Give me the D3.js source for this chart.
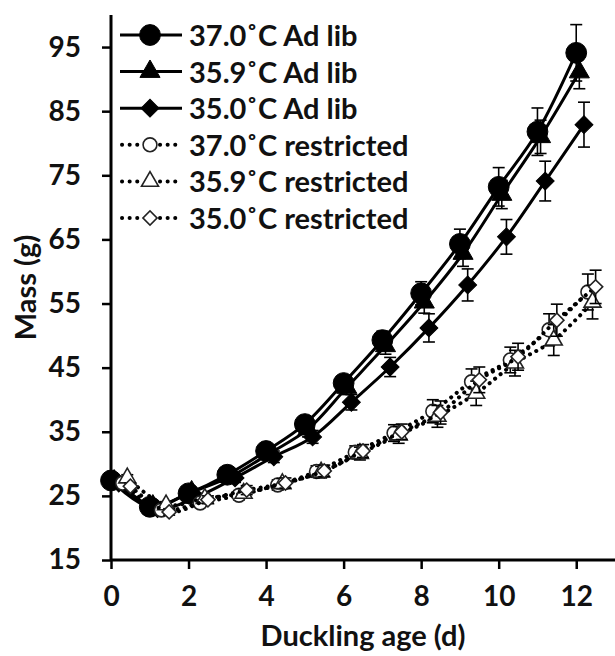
<!DOCTYPE html>
<html>
<head>
<meta charset="utf-8">
<script src="https://cdn.jsdelivr.net/npm/d3@7"></script>
<style>
  body { margin: 0; background: #fff; }
  svg text { font-family: Lato, "Open Sans", sans-serif; font-weight: bold; fill: #111; }
</style>
</head>
<body>
<div id="graph"></div>
<script>
// values (mean mass, g, and error bar half-widths)
const days = [0, 1, 2, 3, 4, 5, 6, 7, 8, 9, 10, 11, 12];

const adlib370 = [27.4, 23.3, 25.4, 28.3, 32.0, 36.2, 42.6, 49.3, 56.6, 64.3, 73.2, 81.8, 94.1];
const adlib359 = [27.3, 23.4, 25.6, 28.0, 31.6, 35.4, 41.9, 48.4, 55.2, 62.8, 72.0, 81.0, 91.1];
const adlib350 = [27.0, 23.0, 24.8, 27.8, 31.1, 34.2, 39.6, 45.1, 51.2, 57.9, 65.4, 74.1, 82.9];
const restr370 = [27.0, 22.8, 23.9, 25.1, 26.7, 28.8, 31.8, 34.8, 38.2, 42.8, 46.2, 50.9, 56.8];
const restr359 = [27.8, 23.6, 24.6, 25.4, 26.9, 28.7, 31.6, 34.5, 37.4, 41.0, 45.7, 49.3, 55.2];
const restr350 = [26.5, 22.5, 24.4, 25.9, 27.0, 28.9, 32.0, 35.0, 38.0, 43.1, 46.7, 52.4, 57.6];

const se370 = [0.6, 0.5, 0.6, 0.8, 1.0, 1.3, 1.2, 1.4, 1.8, 2.3, 3.0, 3.7, 4.4];
const se359 = [0.6, 0.5, 0.6, 0.8, 1.0, 1.2, 1.1, 1.3, 1.7, 2.0, 2.2, 2.6, 2.6];
const se350 = [0.5, 0.5, 0.6, 0.7, 0.9, 1.0, 1.2, 1.5, 2.2, 2.5, 2.7, 3.1, 3.5];
const seR370 = [0.5, 0.5, 0.6, 0.7, 0.8, 0.9, 1.0, 1.3, 1.8, 2.0, 2.0, 2.5, 2.8];
const seR359 = [0.5, 0.5, 0.6, 0.7, 0.8, 0.9, 1.0, 1.3, 1.7, 1.9, 2.0, 2.4, 2.6];
const seR350 = [0.5, 0.5, 0.6, 0.7, 0.8, 0.9, 1.0, 1.2, 1.8, 2.0, 2.1, 2.5, 2.6];

const labels = ['37.0\u02DAC Ad lib', '35.9\u02DAC Ad lib', '35.0\u02DAC Ad lib',
  '37.0\u02DAC restricted', '35.9\u02DAC restricted', '35.0\u02DAC restricted'];

const yTicks = [15, 25, 35, 45, 55, 65, 75, 85, 95];
const xTicks = [0, 2, 4, 6, 8, 10, 12];

// shift = small horizontal stagger used in the original so points don't overlap
const series = [
  {name: labels[0], values: adlib370, se: se370, shift: 0.0, shape: 'circle', open: false},
  {name: labels[1], values: adlib359, se: se359, shift: 0.08, shape: 'triangle', open: false},
  {name: labels[2], values: adlib350, se: se350, shift: 0.2, shape: 'diamond', open: false},
  {name: labels[3], values: restr370, se: seR370, shift: 0.3, shape: 'circle', open: true},
  {name: labels[4], values: restr359, se: seR359, shift: 0.42, shape: 'triangle', open: true},
  {name: labels[5], values: restr350, se: seR350, shift: 0.5, shape: 'diamond', open: true}
];

const W = 615, H = 656;
const margin = {top: 15, right: 0, bottom: 96, left: 111};
const width = W - margin.left - margin.right;
const height = H - margin.top - margin.bottom;

const x = d3.scaleLinear().domain([0, 13]).range([0, width]);
const y = d3.scaleLinear().domain([15, 100]).range([height, 0]);

const svg = d3.select('#graph').append('svg')
  .attr('width', W)
  .attr('height', H);

const g = svg.append('g')
  .attr('transform', 'translate(' + margin.left + ',' + margin.top + ')');

function symbolPath(shape, open) {
  if (shape === 'circle') return d3.symbol(d3.symbolCircle, open ? 150 : 340)();
  if (shape === 'triangle') return d3.symbol(d3.symbolTriangle, open ? 125 : 175)();
  return d3.symbol(d3.symbolSquare, open ? 100 : 160)();
}

function drawMarker(sel, s) {
  sel.append('path')
    .attr('d', symbolPath(s.shape, s.open))
    .attr('transform', s.shape === 'diamond' ? 'rotate(45)' : null)
    .attr('fill', s.open ? '#fff' : '#000')
    .attr('stroke', s.open ? '#222' : '#000')
    .attr('stroke-width', s.open ? 1.6 : 1);
}

const line = d3.line()
  .curve(d3.curveCatmullRom)
  .x(d => x(d.day))
  .y(d => y(d.value));

// x axis
const xAxisG = g.append('g')
  .attr('transform', 'translate(0,' + height + ')')
  .call(d3.axisBottom(x).tickValues(xTicks).tickSize(9).tickPadding(17).tickFormat(d3.format('d')));

// y axis
const yAxisG = g.append('g')
  .call(d3.axisLeft(y).tickValues(yTicks).tickSize(9).tickPadding(21).tickFormat(d3.format('d')));

[xAxisG, yAxisG].forEach(ax => {
  ax.select('.domain').attr('stroke', '#000').attr('stroke-width', 3);
  ax.selectAll('.tick line').attr('stroke', '#000').attr('stroke-width', 2.5);
  ax.selectAll('.tick text').attr('font-size', 28).attr('fill', '#111')
    .attr('font-family', 'Lato, sans-serif').attr('font-weight', 'bold');
});
xAxisG.select('.domain').attr('d', 'M0,0H' + width);
yAxisG.select('.domain').attr('d', 'M0,' + height + 'V0');

// series
series.forEach(s => {
  const pts = s.values.map((v, i) => ({day: days[i] + s.shift, value: v, se: s.se[i]}));
  const sg = g.append('g');

  sg.append('path')
    .attr('d', line(pts))
    .attr('fill', 'none')
    .attr('stroke', '#000')
    .attr('stroke-width', s.open ? 4 : 3)
    .attr('stroke-linecap', s.open ? 'round' : 'butt')
    .attr('stroke-dasharray', s.open ? '0.1 7' : null);

  const eb = sg.selectAll('.eb').data(pts).enter().append('g')
    .attr('stroke', '#000').attr('stroke-width', 1.6);
  eb.append('line')
    .attr('x1', d => x(d.day)).attr('x2', d => x(d.day))
    .attr('y1', d => y(d.value - d.se)).attr('y2', d => y(d.value + d.se));
  eb.append('line')
    .attr('x1', d => x(d.day) - 6).attr('x2', d => x(d.day) + 6)
    .attr('y1', d => y(d.value + d.se)).attr('y2', d => y(d.value + d.se));
  eb.append('line')
    .attr('x1', d => x(d.day) - 6).attr('x2', d => x(d.day) + 6)
    .attr('y1', d => y(d.value - d.se)).attr('y2', d => y(d.value - d.se));

  sg.selectAll('.mk').data(pts).enter().append('g')
    .attr('transform', d => 'translate(' + x(d.day) + ',' + y(d.value) + ')')
    .each(function() { drawMarker(d3.select(this), s); });
});

// legend
const legend = svg.append('g').attr('transform', 'translate(120,35)');
series.forEach((s, i) => {
  const row = legend.append('g').attr('transform', 'translate(0,' + (i * 36.6) + ')');
  if (s.open) {
    row.append('line').attr('x1', 2).attr('x2', 20).attr('y1', 0).attr('y2', 0)
      .attr('stroke', '#000').attr('stroke-width', 4).attr('stroke-linecap', 'round')
      .attr('stroke-dasharray', '0.1 7.5');
    row.append('line').attr('x1', 40).attr('x2', 60).attr('y1', 0).attr('y2', 0)
      .attr('stroke', '#000').attr('stroke-width', 4).attr('stroke-linecap', 'round')
      .attr('stroke-dasharray', '0.1 7.5');
  } else {
    row.append('line').attr('x1', 0).attr('x2', 62).attr('y1', 0).attr('y2', 0)
      .attr('stroke', '#000').attr('stroke-width', 3);
  }
  const m = row.append('g').attr('transform', 'translate(30,0)');
  drawMarker(m, s);
  row.append('text')
    .attr('x', 69).attr('y', 11)
    .attr('font-size', 29)
    .text(s.name);
});

// axis titles
svg.append('text')
  .attr('x', margin.left + width / 2).attr('y', 646)
  .attr('text-anchor', 'middle')
  .attr('font-size', 29)
  .text('Duckling age (d)');

svg.append('text')
  .attr('transform', 'translate(36,' + (margin.top + height / 2) + ') rotate(-90)')
  .attr('text-anchor', 'middle')
  .attr('font-size', 29)
  .text('Mass (g)');
</script>
</body>
</html>
